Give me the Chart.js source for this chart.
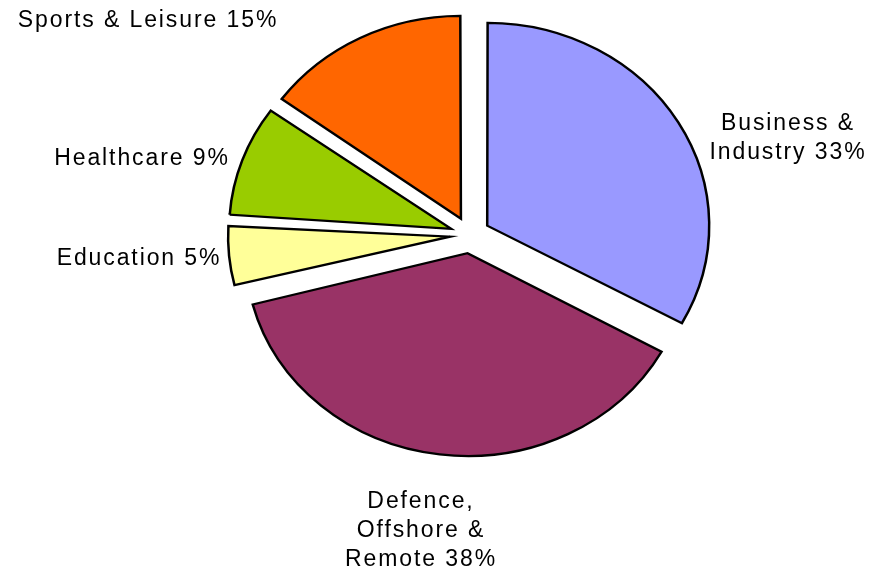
<!DOCTYPE html>
<html>
<head>
<meta charset="utf-8">
<script src="https://cdn.jsdelivr.net/npm/chart.js@4.4.0/dist/chart.umd.min.js"></script>
<style>
    html, body { margin: 0; padding: 0; background: white; }
    #wrap { width: 871px; height: 576px; }
</style>
</head>
<body>
<div id="wrap"><canvas id="myChart" width="871" height="576"></canvas></div>
<script>
// sectors, clockwise from 12 o'clock
let sectors = ['Business & Industry', 'Defence, Offshore & Remote', 'Education', 'Healthcare', 'Sports & Leisure'];
let shares = [33, 38, 5, 9, 15];
let label_lines = [
    ['Business &', 'Industry 33%'],
    ['Defence,', 'Offshore &', 'Remote 38%'],
    ['Education 5%'],
    ['Healthcare 9%'],
    ['Sports & Leisure 15%']
];
let colours = ['#9999ff', '#993366', '#ffff99', '#99cc00', '#ff6600'];

// where each label block sits, relative to the pie centre
let label_offsets = [[317, -97], [-50, 296], [-332, 24], [-329, -76], [-323, -214]];

let pie_radius = 222;
let explode = 80;   // chart.js moves the slice by offset / 4
// the original pie is a bit squashed vertically
let y_squash = 0.914;

const squash_plugin = {
    id: 'squash',
    beforeDatasetsDraw(chart) {
        let arcs = chart.getDatasetMeta(0).data;
        // chart.js also grows narrow exploded slices, undo that so all slices share one radius
        arcs.forEach(a => {
            let fix = 1 - Math.sin(Math.min(Math.PI, a.circumference));
            a.outerRadius = pie_radius - (explode / 4) * fix;
        });
        let arc = arcs[0];
        let ctx = chart.ctx;
        ctx.save();
        ctx.translate(arc.x, arc.y);
        ctx.scale(1, y_squash);
        ctx.translate(-arc.x, -arc.y);
    },
    afterDatasetsDraw(chart) {
        chart.ctx.restore();
    }
};

const labels_plugin = {
    id: 'sliceLabels',
    afterDraw(chart) {
        let arc = chart.getDatasetMeta(0).data[0];
        let ctx = chart.ctx;
        let line_h = 29;
        ctx.save();
        ctx.font = '23px "Liberation Sans", Arial, Helvetica, sans-serif';
        ctx.letterSpacing = '1.9px';
        ctx.fillStyle = '#000';
        ctx.textAlign = 'center';
        ctx.textBaseline = 'middle';
        label_lines.forEach((lines, i) => {
            let x = arc.x + label_offsets[i][0];
            let y0 = arc.y + label_offsets[i][1] - (lines.length - 1) * line_h / 2;
            lines.forEach((txt, j) => {
                ctx.fillText(txt, x + 1, y0 + j * line_h);
            });
        });
        ctx.restore();
    }
};

let ctx = document.getElementById('myChart');
let chart = new Chart(ctx, {
    type: 'pie',
    data: {
        labels: sectors,
        datasets: [{
            data: shares,
            backgroundColor: colours,
            borderColor: '#000',
            borderWidth: 2.5,
            borderJoinStyle: 'miter',
            offset: explode,
            radius: pie_radius
        }]
    },
    options: {
        responsive: false,
        animation: false,
        events: [],
        layout: { padding: { left: 69, right: 0, top: 0, bottom: 106 } },
        plugins: {
            legend: { display: false },
            tooltip: { enabled: false }
        }
    },
    plugins: [squash_plugin, labels_plugin]
});
</script>
</body>
</html>
